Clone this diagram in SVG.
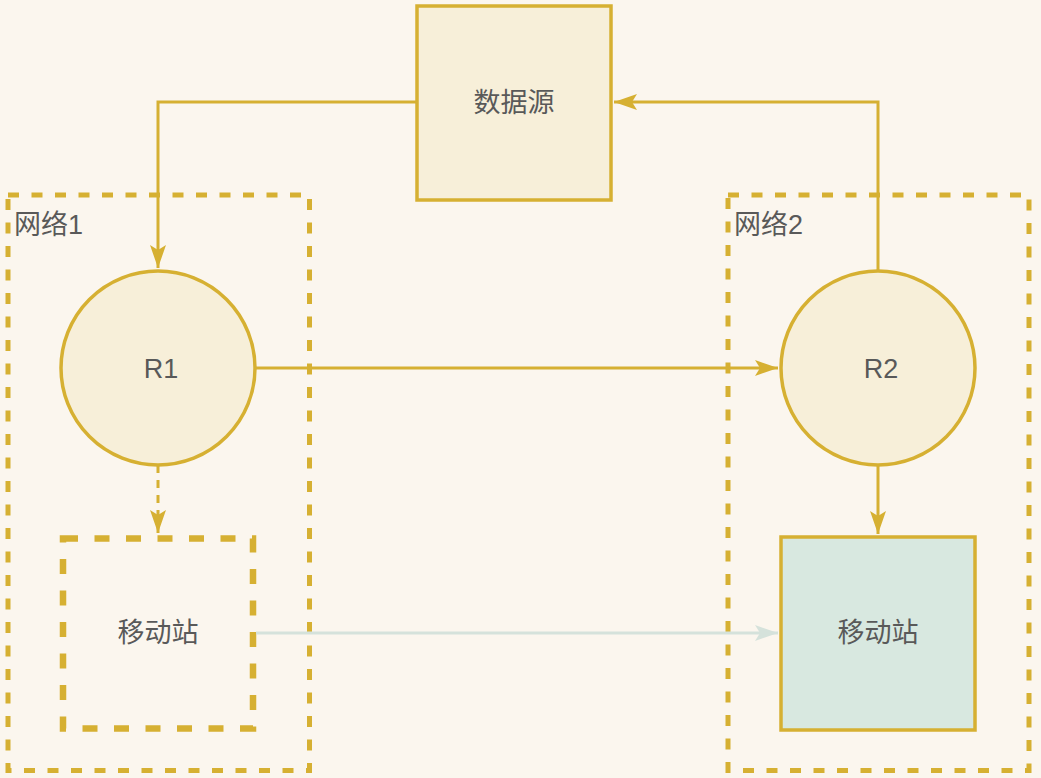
<svg xmlns="http://www.w3.org/2000/svg" width="1041" height="778" viewBox="0 0 1041 778">
<defs>
<style>
.lbl{font-family:"Liberation Sans","Noto Sans CJK SC",sans-serif;font-size:27px;fill:#595959;text-anchor:middle;dominant-baseline:central}
.glbl{font-family:"Liberation Sans","Noto Sans CJK SC",sans-serif;font-size:27px;fill:#595959}
.node{fill:#f7efd9;stroke:#d6b032;stroke-width:3.5}
.group{fill:none;stroke:#d6b032;stroke-width:5;stroke-dasharray:11 12.5}
.edge{fill:none;stroke:#d6b032;stroke-width:3}
</style>
<marker id="ah" markerUnits="userSpaceOnUse" markerWidth="30" markerHeight="20" viewBox="-24 -10 30 20" refX="0" refY="0" orient="auto" overflow="visible">
<path d="M0,0 L-23,-8 L-18,0 L-23,8 Z" fill="#d6b032"/>
</marker>
<marker id="ahT" markerUnits="userSpaceOnUse" markerWidth="30" markerHeight="20" viewBox="-24 -10 30 20" refX="0" refY="0" orient="auto" overflow="visible">
<path d="M0,0 L-23,-8 L-18,0 L-23,8 Z" fill="#d5e2db"/>
</marker>
</defs>
<rect width="1041" height="778" fill="#fbf6ee"/>
<g id="net1">
<rect class="group" x="8" y="195" width="301.5" height="575.5"/>
<text class="glbl" x="14" y="234">网络1</text>
</g>
<g id="net2">
<rect class="group" x="728" y="195" width="301" height="575.5"/>
<text class="glbl" x="734" y="234">网络2</text>
</g>
<g id="datasource">
<rect class="node" x="417" y="6" width="194" height="194"/>
<text class="lbl" x="514" y="103">数据源</text>
</g>
<g id="r1">
<circle class="node" cx="158" cy="368" r="97"/>
<text class="lbl" x="161" y="369">R1</text>
</g>
<g id="r2">
<circle class="node" cx="878" cy="368" r="97"/>
<text class="lbl" x="881" y="369">R2</text>
</g>
<g id="ms1">
<rect x="63" y="538.5" width="190" height="190" fill="none" stroke="#d6b032" stroke-width="6.5" stroke-dasharray="15 16.5"/>
<text class="lbl" x="158" y="633">移动站</text>
</g>
<g id="ms2">
<rect x="781" y="537" width="194" height="193" fill="#d8e8e0" stroke="#d6b032" stroke-width="3.5"/>
<text class="lbl" x="878" y="633">移动站</text>
</g>
<g id="connectors">
<path class="edge" d="M417,102 H158 V268" marker-end="url(#ah)"/>
<path class="edge" d="M878,271 V102 H614" marker-end="url(#ah)"/>
<path class="edge" d="M255,368 H778" marker-end="url(#ah)"/>
<path class="edge" d="M158,465 V533" stroke-dasharray="8 7" marker-end="url(#ah)"/>
<path class="edge" d="M878,465 V534" marker-end="url(#ah)"/>
<path d="M256,633 H778" fill="none" stroke="#d5e2db" stroke-width="3" marker-end="url(#ahT)"/>
</g>
</svg>
